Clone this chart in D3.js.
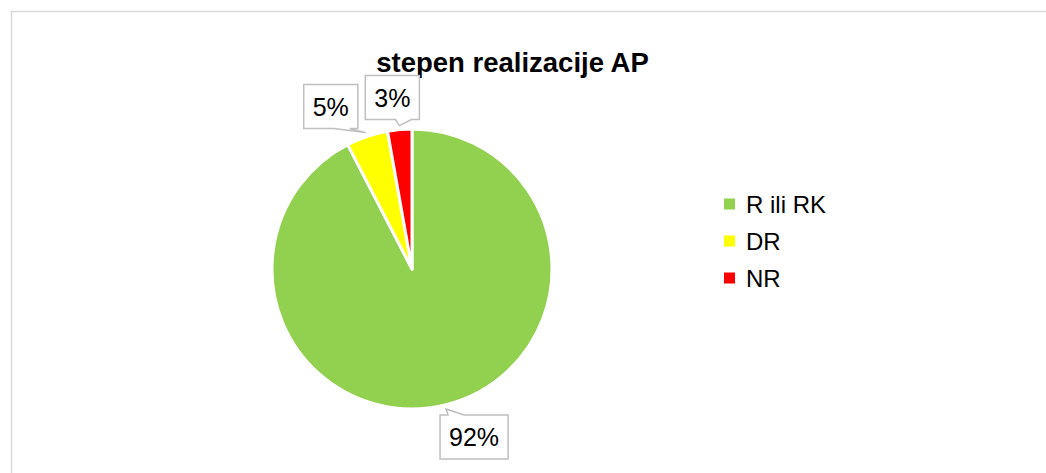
<!DOCTYPE html>
<html>
<head>
<meta charset="utf-8">
<script src="https://cdn.jsdelivr.net/npm/d3@7"></script>
<style>
  body { margin: 0; background: #fff; }
  text { font-family: "Liberation Sans", Arial, sans-serif; fill: #000; }
</style>
</head>
<body>
<div id="chart"></div>
<script>
// Data
var categories = ["R ili RK", "DR", "NR"],
    values = [92.4, 4.8, 2.8],
    colors = ["#92D050", "#FFFF00", "#FF0000"],
    title = "stepen realizacije AP";

// Chart dimensions
var width = 1046,
    height = 473,
    cx = 412,
    cy = 269,
    radius = 140;

var svg = d3.select("#chart").append("svg")
    .attr("width", width)
    .attr("height", height);

// Chart area border (runs off the right and bottom of the picture)
svg.append("rect")
    .attr("x", 11.5)
    .attr("y", 11.5)
    .attr("width", 1100)
    .attr("height", 500)
    .attr("fill", "none")
    .attr("stroke", "#d9d9d9")
    .attr("stroke-width", 1.5);

// Title
svg.append("text")
    .attr("x", 512.5)
    .attr("y", 71.5)
    .attr("text-anchor", "middle")
    .style("font-size", "27.5px")
    .style("font-weight", "bold")
    .text(title);

var total = d3.sum(values),
    fmt = d3.format(".0%");

var pie = d3.pie().sort(null).value(function(d) { return d; }),
    arcs = pie(values),
    arc = d3.arc().innerRadius(0).outerRadius(radius);

var g = svg.append("g")
    .attr("transform", "translate(" + cx + "," + cy + ")");

g.selectAll(".slice")
    .data(arcs)
    .enter().append("path")
    .attr("class", "slice")
    .attr("d", arc)
    .attr("fill", function(d, i) { return colors[i]; })
    .attr("stroke", "#fff")
    .attr("stroke-width", 3)
    .attr("stroke-linejoin", "round");

// Data label callouts: offset of the box centre from the tip
var labelOffsets = [[28, 28], [-35, -26], [-7, -28]],
    boxH = 44;

var labels = g.selectAll(".label")
    .data(arcs)
    .enter().append("g")
    .attr("class", "label");

labels.each(function(d, i) {
    var sel = d3.select(this),
        mid = (d.startAngle + d.endAngle) / 2,
        tip = [(radius + 4) * Math.sin(mid), -(radius + 4) * Math.cos(mid)],
        txt = fmt(d.value / total);

    var t = sel.append("text")
        .style("font-size", "25px")
        .attr("text-anchor", "middle")
        .attr("dy", "0.36em")
        .text(txt);
    var w = t.node().getComputedTextLength() + 18;

    var c = [tip[0] + labelOffsets[i][0], tip[1] + labelOffsets[i][1]],
        l = c[0] - w / 2, r = c[0] + w / 2,
        top = c[1] - boxH / 2, bot = c[1] + boxH / 2,
        b0 = l + Math.max(8, Math.min(tip[0] - l, w - 24)),
        b1 = b0 + 16,
        p;

    if (tip[1] < top) {
        p = [[l, top], [b0, top], tip, [b1, top], [r, top], [r, bot], [l, bot]];
    } else {
        p = [[l, top], [r, top], [r, bot], [b1, bot], tip, [b0, bot], [l, bot]];
    }

    sel.insert("path", "text")
        .attr("d", d3.line()(p) + "Z")
        .attr("fill", "#fff")
        .attr("stroke", "#bfbfbf")
        .attr("stroke-width", 1.5);

    t.attr("x", c[0]).attr("y", c[1]);
});

// Legend
var legendY = d3.scalePoint().domain(categories).range([204, 278]);

var legend = svg.append("g").selectAll(".legend")
    .data(categories)
    .enter().append("g")
    .attr("class", "legend")
    .attr("transform", function(d) { return "translate(724," + legendY(d) + ")"; });

legend.append("rect")
    .attr("x", 0)
    .attr("y", -5.5)
    .attr("width", 11)
    .attr("height", 11)
    .attr("fill", function(d, i) { return colors[i]; });

legend.append("text")
    .attr("x", 22)
    .attr("dy", "0.36em")
    .style("font-size", "24px")
    .text(function(d) { return d; });
</script>
</body>
</html>
